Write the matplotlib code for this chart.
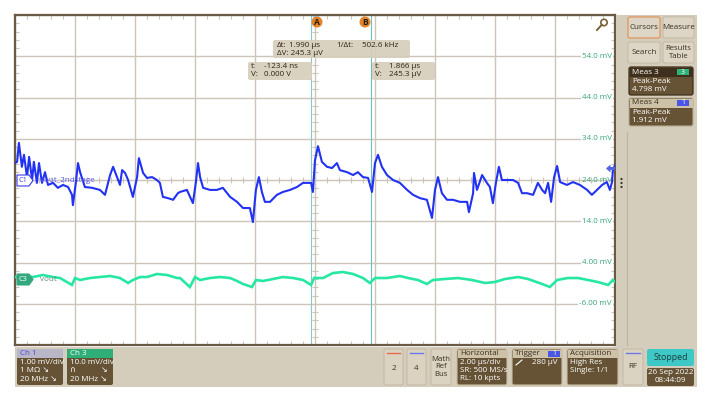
import matplotlib
matplotlib.use('Agg')
import matplotlib.pyplot as plt
from matplotlib.patches import FancyBboxPatch, Rectangle, Polygon, Circle
import numpy as np

plt.rcParams['font.family'] = ['Open Sans', 'DejaVu Sans']

# ---------------- data (time in µs, voltages in mV) ----------------
ch1_t = [-10.00, -9.93, -9.87, -9.77, -9.70, -9.60, -9.53, -9.43, -9.37, -9.27,
         -9.20, -9.10, -9.00, -8.90, -8.73, -8.57, -8.40, -8.23, -8.10, -8.07,
         -7.97, -7.90, -7.83, -7.67, -7.43, -7.17, -7.00, -6.83, -6.73, -6.60,
         -6.50, -6.43, -6.33, -6.23, -6.07, -5.93, -5.87, -5.73, -5.60, -5.43,
         -5.27, -5.17, -5.07, -4.90, -4.73, -4.57, -4.50, -4.27, -4.07, -3.97,
         -3.90, -3.83, -3.73, -3.50, -3.27, -3.07, -2.83, -2.60, -2.40, -2.17,
         -2.07, -1.97, -1.87, -1.77, -1.67, -1.50, -1.27, -1.07, -0.83, -0.60,
         -0.40, -0.13, -0.07, 0.00, 0.10, 0.23, 0.40, 0.57, 0.73, 0.83,
         1.07, 1.27, 1.43, 1.60, 1.77, 1.90, 2.00, 2.10, 2.23, 2.40,
         2.60, 2.83, 3.07, 3.27, 3.50, 3.73, 3.90, 4.00, 4.10, 4.23,
         4.40, 4.60, 4.83, 5.07, 5.13, 5.27, 5.30, 5.40, 5.57, 5.73,
         5.83, 5.93, 6.03, 6.13, 6.23, 6.40, 6.60, 6.77, 6.90, 7.07,
         7.27, 7.43, 7.57, 7.67, 7.77, 7.87, 7.97, 8.07, 8.17, 8.40,
         8.60, 8.83, 9.07, 9.23, 9.40, 9.57, 9.73, 9.83, 9.90, 9.93, 10.00]
ch1_mv = [0.41, 0.44, 0.90, 0.32, 0.61, 0.07, 0.56, 0.00, 0.44, -0.07,
          0.41, -0.07, 0.19, -0.12, -0.07, -0.19, -0.12, -0.17, -0.36, -0.61,
          -0.05, 0.41, 0.19, -0.17, -0.19, -0.24, -0.36, 0.12, 0.32, 0.07,
          -0.12, 0.24, 0.17, 0.00, -0.41, 0.07, 0.53, 0.17, 0.05, 0.07,
          0.00, -0.07, -0.41, -0.44, -0.48, -0.32, -0.29, -0.24, -0.56, -0.05,
          0.41, 0.07, -0.19, -0.24, -0.24, -0.19, -0.41, -0.53, -0.68, -0.68,
          -1.02, -0.24, 0.07, -0.29, -0.53, -0.53, -0.36, -0.29, -0.24, -0.17,
          -0.07, -0.07, -0.29, 0.48, 0.82, 0.44, 0.32, 0.29, 0.41, 0.24,
          0.19, 0.12, 0.19, 0.07, 0.05, -0.29, 0.41, 0.61, 0.32, 0.12,
          0.00, -0.07, -0.24, -0.36, -0.44, -0.48, -0.92, -0.24, 0.07, -0.32,
          -0.48, -0.48, -0.53, -0.53, -0.78, -0.32, 0.17, -0.24, 0.12, -0.07,
          -0.17, -0.56, -0.07, 0.32, 0.00, 0.00, 0.00, -0.07, -0.32, -0.32,
          -0.36, -0.07, -0.24, -0.32, -0.07, -0.53, 0.07, 0.34, -0.05, -0.12,
          -0.05, -0.12, -0.24, -0.36, -0.24, -0.12, -0.05, -0.24, -0.05, 0.24, 0.36]

ch3_t = [-10.0, -9.67, -9.4, -9.07, -8.73, -8.5, -8.27, -8.1, -8.0, -7.83,
         -7.5, -7.17, -6.83, -6.5, -6.23, -6.07, -5.83, -5.6, -5.27, -4.93,
         -4.6, -4.5, -4.17, -4.0, -3.83, -3.5, -3.17, -2.83, -2.6, -2.4,
         -2.1, -1.97, -1.73, -1.4, -1.07, -0.73, -0.4, -0.13, -0.03, 0.27,
         0.6, 0.93, 1.27, 1.6, 1.83, 2.0, 2.4, 2.83, 3.1, 3.43,
         3.73, 3.93, 4.33, 4.77, 5.23, 5.67, 6.0, 6.33, 6.77, 7.1,
         7.57, 7.83, 8.07, 8.43, 8.77, 9.1, 9.43, 9.77, 9.93, 10.0]
ch3_mv = [0.48, 0.73, 0.48, 0.97, 0.48, 0.24, -0.73, -1.45, 0.24, -0.24,
          0.24, 0.48, 0.73, 0.24, -0.97, -0.24, 0.48, 0.48, 1.21, 0.97,
          0.24, 0.24, -1.94, 0.48, -0.24, 0.24, 0.48, 0.24, -0.48, -1.21,
          -1.94, -0.24, -0.48, 0.0, 0.48, 0.24, -0.24, -1.45, 0.24, 0.24,
          1.45, 1.70, 1.21, 0.24, -0.97, 0.24, 0.24, 0.73, 0.24, -0.24,
          -1.21, -0.24, 0.0, 0.24, -0.24, -0.97, -0.73, 0.0, 0.48, 0.0,
          -1.21, -1.94, -0.24, 0.24, 0.24, -0.24, -0.73, -1.45, -0.24, -0.73]

scale_labels = ['54.0 mV', '44.0 mV', '34.0 mV', '24.0 mV', '14.0 mV', '4.00 mV', '-6.00 mV']
scale_values = [54, 44, 34, 24, 14, 4, -6]

center_mv = 24.0       # screen centre on the 10 mV/div scale
ch1_per_div = 1.0      # mV/div
screen_per_div = 10.0  # mV/div of the displayed scale
cursor_a = -0.1234     # µs
cursor_dt = 1.990      # µs
trig_level = 0.280     # mV (Ch1)

# ---------------- figure ----------------
W, H = 704, 393
fig = plt.figure(figsize=(W / 100, H / 100), dpi=100)
fig.patch.set_facecolor('white')

beige = '#d5cdbb'
brown = '#665335'
gridc = '#cdc6b8'

# main scope axes
ax = fig.add_axes([15 / W, (H - 345) / H, 600 / W, 330 / H])
ax.set_xlim(-10, 10)
ax.set_ylim(center_mv - 4 * screen_per_div, center_mv + 4 * screen_per_div)
ax.set_facecolor('white')
ax.set_xticks(np.arange(-10, 10.01, 2))
ax.set_yticks(np.arange(-16, 64.1, 10))
ax.set_xticks(np.arange(-10, 10.01, 0.4), minor=True)
ax.set_yticks(np.arange(-16, 64.1, 2), minor=True)
ax.tick_params(which='both', direction='in', labelleft=False, labelbottom=False,
               top=True, right=True, color=gridc)
ax.tick_params(which='major', length=0)
ax.tick_params(which='minor', length=3, width=0.8)
ax.grid(True, which='major', color=gridc, lw=1.0, zorder=0)
for s in ax.spines.values():
    s.set_color('#6a5a45')
    s.set_linewidth(1.6)

# centre-line ticks
ax.vlines(np.arange(-10, 10.01, 0.4), center_mv - 0.8, center_mv + 0.8, color=gridc, lw=0.8, zorder=1)
ax.hlines(np.arange(-16, 64.1, 2), -0.1, 0.1, color=gridc, lw=0.8, zorder=1)

# scale labels
for lab, v in zip(scale_labels, scale_values):
    ax.text(9.9, v, lab, ha='right', va='center', fontsize=5.8, color='#3aa57a', zorder=2,
            bbox=dict(boxstyle='square,pad=0.15', fc='white', ec='none') if v != center_mv else None)

# cursors
ax.axvline(cursor_a, color='#8ac8c8', lw=0.8, zorder=2)
ax.axvline(cursor_a + cursor_dt, color='#6cc0b8', lw=0.8, zorder=2)

# traces
ch1_y = center_mv + np.array(ch1_mv) / ch1_per_div * screen_per_div
ax.plot(ch3_t, ch3_mv, color='#27e8a2', lw=1.9, zorder=4, solid_joinstyle='miter')
ax.plot(ch1_t, ch1_y, color='#2232f2', lw=1.5, zorder=5)

# ---------------- UI overlay (pixel coordinates) ----------------
ui = fig.add_axes([0, 0, 1, 1], zorder=10)
ui.set_xlim(0, W)
ui.set_ylim(H, 0)
ui.axis('off')
ui.patch.set_alpha(0)


def rbox(x, y, w, h, fc, ec='none', lw=0.7, r=2.0, alpha=1.0, z=2):
    p = FancyBboxPatch((x, y), w, h, boxstyle=f'round,pad=0,rounding_size={r}',
                       fc=fc, ec=ec, lw=lw, alpha=alpha, zorder=z)
    ui.add_patch(p)


def txt(x, y, s, size=5.8, color='white', ha='left', va='center', z=5, **kw):
    ui.text(x, y, s, fontsize=size, color=color, ha=ha, va=va, zorder=z, **kw)


# panels
ui.add_patch(Rectangle((616, 15), 81, 332, fc=beige, ec='none', zorder=1))
ui.add_patch(Rectangle((15, 346.5), 682, 40.5, fc=beige, ec='none', zorder=1))
ui.plot([627, 627], [132, 345], color='#bfb49d', lw=0.8, zorder=2)
for yy in (179, 183, 187):
    ui.add_patch(Circle((621.5, yy), 1.1, fc='#3b3325', ec='none', zorder=3))

# right-panel buttons
btn = '#ddd6c6'
btn_ec = '#c3b8a2'
rbox(628, 17, 32, 21, btn, ec='#e0965a', lw=0.9)
txt(644, 27.5, 'Cursors', color='#3b3020', ha='center')
rbox(663, 17, 31, 21, btn, ec=btn_ec)
txt(678.5, 27.5, 'Measure', color='#3b3020', ha='center')
rbox(628, 42, 32, 21, btn, ec=btn_ec)
txt(644, 52.5, 'Search', color='#3b3020', ha='center')
rbox(663, 42, 31, 21, btn, ec=btn_ec)
txt(678.5, 52.5, 'Results\nTable', color='#3b3020', ha='center', size=5.6, linespacing=1.0)

# Meas 3
rbox(629, 67, 64, 28, brown, ec='#3e301c', lw=0.9)
ui.add_patch(Rectangle((629.5, 67.5), 63, 9, fc='#3e301c', ec='none', zorder=3))
txt(632, 72, 'Meas 3', color='white')
ui.add_patch(Rectangle((677, 68.8), 12, 6.2, fc='#2fb27a', ec='none', zorder=4))
txt(683, 72, '3', color='white', ha='center', size=5)
txt(632, 81.5, 'Peak-Peak')
txt(632, 89.5, '4.798 mV')
# Meas 4
rbox(629, 98, 64, 28, brown, ec='#b8ab90', lw=0.8)
ui.add_patch(Rectangle((629.5, 98.5), 63, 9, fc='#cdc1a7', ec='none', zorder=3))
txt(632, 103, 'Meas 4', color='#3b3020')
ui.add_patch(Rectangle((677, 99.8), 12, 6.2, fc='#4a55e6', ec='none', zorder=4))
txt(683, 103, '1', color='white', ha='center', size=5)
txt(632, 112.5, 'Peak-Peak')
txt(632, 120.5, '1.912 mV')

# bottom bar: channel badges
rbox(17, 349, 46, 36, brown)
ui.add_patch(Rectangle((17, 349), 46, 9, fc='#b9b6c8', ec='none', zorder=3))
txt(20, 353.5, 'Ch 1', color='#4a4ae6')
txt(20, 363, '1.00 mV/div')
txt(20, 371, '1 MΩ ↘')
txt(20, 379.5, '20 MHz ↘')
rbox(67, 349, 46, 36, brown)
ui.add_patch(Rectangle((67, 349), 46, 9, fc='#2fae78', ec='none', zorder=3))
txt(70, 353.5, 'Ch 3', color='white')
txt(70, 363, '10.0 mV/div')
txt(70, 371, '∩')
txt(108, 371, '↘', ha='right')
txt(70, 379.5, '20 MHz ↘')

# small buttons
for x0, lab, lc in ((384, '2', '#e86a4a'), (407, '4', '#6a78e6')):
    rbox(x0, 349, 19, 36, '#dbd3c2', ec=btn_ec)
    ui.plot([x0 + 3, x0 + 16], [352.5, 352.5], color=lc, lw=1.0, zorder=4)
    txt(x0 + 9.5, 369, lab, color='#3b3020', ha='center')
rbox(431, 349, 20, 36, '#dbd3c2', ec=btn_ec)
txt(441, 367, 'Math\nRef\nBus', color='#3b3020', ha='center', size=5.6, linespacing=1.05)

# Horizontal / Trigger / Acquisition
for x0, w, head in ((457, 50, 'Horizontal'), (512, 50, 'Trigger'), (567, 51, 'Acquisition')):
    rbox(x0, 349, w, 36, brown, ec='#c9bda3', lw=0.8)
    ui.add_patch(Rectangle((x0 + 0.5, 349.5), w - 1, 8, fc='#cdc2a8', ec='none', zorder=3))
    txt(x0 + 3, 353.5, head, color='#3b3020')
txt(460, 362, '2.00 µs/div')
txt(460, 370, 'SR: 500 MS/s')
txt(460, 378, 'RL: 10 kpts')
ui.add_patch(Rectangle((548, 350.5), 12, 6, fc='#4a55e6', ec='none', zorder=4))
txt(554, 353.5, '1', color='white', ha='center', size=5)
ui.plot([516, 522], [365, 360], color='white', lw=0.8, zorder=5)
txt(558, 362, '280 µV', ha='right')
txt(570, 362, 'High Res')
txt(570, 370, 'Single: 1/1')

# RF
rbox(623, 349, 20, 36, '#dbd3c2', ec=btn_ec)
ui.plot([626, 640], [352.5, 352.5], color='#6a78e6', lw=1.0, zorder=4)
txt(633, 367, 'RF', color='#3b3020', ha='center')

# Stopped / date
rbox(647, 349, 47, 17, '#3ec9c6')
txt(670.5, 357.5, 'Stopped', color='#1d3c3c', ha='center', size=6.4)
rbox(647, 368, 47, 18, brown)
txt(670.5, 373, '26 Sep 2022', ha='center')
txt(670.5, 381, '08:44:09', ha='center')

# channel markers on the left
ui.add_patch(Polygon([(17, 175), (29, 175), (33, 180.5), (29, 186), (17, 186)], closed=True,
                     fc='white', ec='#3a3af0', lw=0.8, zorder=6))
txt(23, 180.5, 'C1', color='#3a3af0', ha='center', size=5.3, z=7)
txt(40, 180.5, 'vout_2ndstage', color='#5a5af0', size=5.8, z=7)
ui.add_patch(Polygon([(17, 274), (29, 274), (33, 279.5), (29, 285), (17, 285)], closed=True,
                     fc='#33a87c', ec='#33a87c', lw=0.8, zorder=6))
txt(23, 279.5, 'C3', color='white', ha='center', size=5.3, z=7)
txt(40, 279.5, 'vout', color='#6a8a7c', size=5.8, z=7)

# Ch1 trigger-level arrow at right edge
ui.add_patch(Polygon([(606, 168.5), (610.5, 164.5), (610.5, 167), (615, 167), (615, 170),
                      (610.5, 170), (610.5, 172.5)], closed=True, fc='#5563e6', ec='none', zorder=6))

# key / search icon at top right of graticule
ui.add_patch(Circle((604, 22.5), 3.2, fc='none', ec='#7a6238', lw=1.2, zorder=6))
ui.plot([601.8, 597], [24.8, 30], color='#7a6238', lw=1.4, zorder=6)

# trigger marker + cursor badges
ui.add_patch(Polygon([(312.5, 16), (319.5, 16), (316, 21)], closed=True, fc='#8fc6e6', ec='none', zorder=6))
ui.add_patch(Circle((317, 22), 5.5, fc='#e3832c', ec='none', zorder=7))
txt(317, 22.3, 'A', color='#2b2010', ha='center', size=6.2, z=8, fontweight='bold')
ui.add_patch(Circle((365, 22), 5.5, fc='#e3832c', ec='none', zorder=7))
txt(365, 22.3, 'B', color='#2b2010', ha='center', size=6.2, z=8, fontweight='bold')

# cursor readouts
rb = '#d6cebb'
rbox(273, 40, 137, 18, rb, alpha=0.92, z=6)
txt(277, 45.5, 'Δt:', color='#2b2418', z=7)
txt(289, 45.5, '1.990 µs', color='#2b2418', z=7)
txt(336, 45.5, '1/Δt:', color='#2b2418', z=7)
txt(362, 45.5, '502.6 kHz', color='#2b2418', z=7)
txt(277, 53.5, 'ΔV: 245.3 µV', color='#2b2418', z=7)
rbox(248, 62, 64, 18, rb, alpha=0.92, z=6)
txt(251, 67, 't:', color='#2b2418', z=7)
txt(264, 67, '-123.4 ns', color='#2b2418', z=7)
txt(251, 75, 'V:', color='#2b2418', z=7)
txt(264, 75, '0.000 V', color='#2b2418', z=7)
rbox(372, 62, 63, 18, rb, alpha=0.92, z=6)
txt(375, 67, 't:', color='#2b2418', z=7)
txt(389, 67, '1.866 µs', color='#2b2418', z=7)
txt(375, 75, 'V:', color='#2b2418', z=7)
txt(389, 75, '245.3 µV', color='#2b2418', z=7)

fig.savefig('out.png', dpi=100, facecolor='white')
